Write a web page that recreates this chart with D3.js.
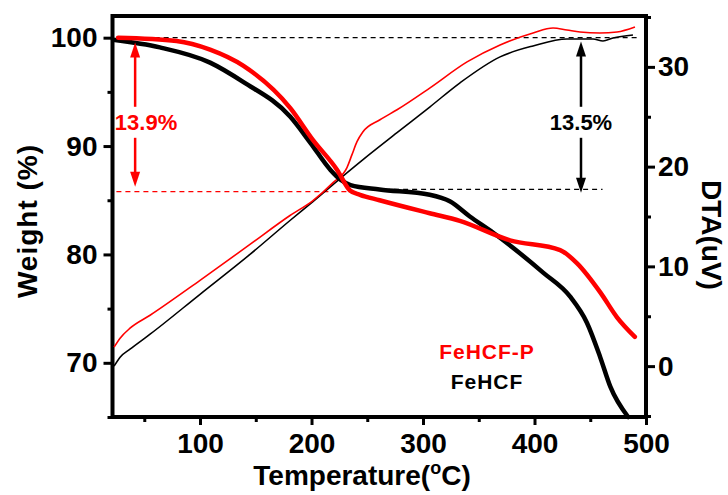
<!DOCTYPE html>
<html>
<head>
<meta charset="utf-8">
<script src="https://cdn.jsdelivr.net/npm/d3@7"></script>
<style>
  body { margin: 0; background: #fff; }
  svg { display: block; font-family: "Liberation Sans", Arial, sans-serif; font-weight: bold; }
</style>
</head>
<body>
<script>
// TG curves (left axis, weight %)
const tgBlackT = [22, 64, 109, 139, 181, 199, 217, 226, 235, 261, 306, 324, 342, 363, 408, 432, 447, 459, 468, 484];
const tgBlackW = [99.8, 99.1, 97.7, 95.9, 92.7, 90.3, 87.8, 86.9, 86.4, 86.0, 85.5, 84.9, 83.5, 82.0, 78.3, 76.1, 73.7, 70.5, 67.8, 65.0];
const tgRedT = [26.5, 79, 109, 139, 181, 201, 223, 234.5, 243.5, 261, 306, 333, 378, 423, 438, 459, 474, 490];
const tgRedW = [100, 99.7, 98.9, 97.4, 93.5, 90.6, 87.8, 85.9, 85.5, 85.0, 83.8, 83.1, 81.3, 80.4, 79.2, 76.5, 74.2, 72.4];

// DTA curves (right axis, uV)
const dtaBlackT = [22.9, 28.3, 37.2, 55.2, 100, 144.8, 180.7, 201.3, 225.6, 246.2, 276.7, 306.3, 333.2, 369.1, 398.7, 429.1, 452.5, 461.4, 470.4, 488.3];
const dtaBlackD = [0.0, 0.9, 1.7, 3.2, 7.2, 11.2, 14.6, 16.5, 18.8, 20.7, 23.4, 26.0, 28.4, 31.0, 32.1, 32.8, 32.8, 32.6, 32.9, 33.2];
const dtaRedT = [22.9, 28.3, 37.2, 55.2, 100, 144.8, 180.7, 201.3, 219.3, 231.8, 236.3, 240.8, 246.2, 261.4, 276.7, 306.3, 339.5, 369.1, 398.7, 416.6, 429.1, 440.8, 458.7, 474.0, 490.1];
const dtaRedD = [1.9, 2.8, 3.8, 5.1, 8.6, 12.2, 15.1, 16.6, 18.4, 19.9, 21.2, 22.5, 23.5, 24.7, 25.7, 27.9, 30.5, 32.2, 33.4, 33.9, 33.7, 33.5, 33.4, 33.5, 34.0];

// ticks
const xTicks = [100, 200, 300, 400, 500];
const xMinor = [50, 150, 250, 350, 450];
const wTicks = [70, 80, 90, 100];
const wMinor = [65, 75, 85, 95];
const dTicks = [0, 10, 20, 30];
const dMinor = [-5, 5, 15, 25, 35];

// annotations: reference dashed lines [T start, T end, weight]
const refLineStart = [27, 25, 266];
const refLineEnd = [492, 232, 461];
const refLineW = [100, 85.8, 86.0];
// double arrows
const arrowT = [41.8, 441.7];
const arrowTopW = [99.55, 99.65];
const arrowBottomW = [86.25, 85.7];
const arrowLabels = ["13.9%", "13.5%"];
const arrowLabelT = [51.6, 441.7];
const arrowLabelW = [91.5, 91.5];

const legendNames = ["FeHCF-P", "FeHCF"];

const W = 728, H = 495;
const margin = {top: 16, right: 82, bottom: 78, left: 112.5};
const RED = "#ff0000";

const svg = d3.select("body").append("svg").attr("width", W).attr("height", H);

const x = d3.scaleLinear().domain([21.5, 500]).range([margin.left, W - margin.right]);
const yW = d3.scaleLinear().domain([65, 102]).range([H - margin.bottom, margin.top]);
const yD = d3.scaleLinear().domain([-5.1, 35.1]).range([H - margin.bottom, margin.top]);

// axes
function styleAxis(g) {
    g.select(".domain").remove();
    g.selectAll(".tick line").attr("stroke", "#000").attr("stroke-width", 3);
    g.selectAll(".tick text").attr("fill", "#000").attr("font-size", 28)
        .attr("font-family", "Liberation Sans, Arial, sans-serif").attr("font-weight", "bold");
}
const bottomY = H - margin.bottom, rightX = W - margin.right;

svg.append("g").attr("transform", `translate(0,${bottomY})`)
    .call(d3.axisBottom(x).tickValues(xTicks).tickSize(8).tickPadding(8))
    .call(styleAxis);
svg.append("g").attr("transform", `translate(0,${bottomY})`)
    .call(d3.axisBottom(x).tickValues(xMinor).tickSize(5).tickFormat(""))
    .call(styleAxis);
svg.append("g").attr("transform", `translate(${margin.left},0)`)
    .call(d3.axisLeft(yW).tickValues(wTicks).tickSize(9).tickPadding(6))
    .call(styleAxis);
svg.append("g").attr("transform", `translate(${margin.left},0)`)
    .call(d3.axisLeft(yW).tickValues(wMinor).tickSize(5).tickFormat(""))
    .call(styleAxis);
svg.append("g").attr("transform", `translate(${rightX},0)`)
    .call(d3.axisRight(yD).tickValues(dTicks).tickSize(9).tickPadding(3))
    .call(styleAxis);
svg.append("g").attr("transform", `translate(${rightX},0)`)
    .call(d3.axisRight(yD).tickValues(dMinor).tickSize(5).tickFormat(""))
    .call(styleAxis);

// frame
svg.append("rect")
    .attr("x", margin.left).attr("y", margin.top)
    .attr("width", rightX - margin.left).attr("height", bottomY - margin.top)
    .attr("fill", "none").attr("stroke", "#000").attr("stroke-width", 4);

// dashed reference lines
const refColors = ["#000", RED, "#000"];
refLineW.forEach((w, i) => {
    svg.append("line")
        .attr("x1", x(refLineStart[i])).attr("x2", x(refLineEnd[i]))
        .attr("y1", yW(w)).attr("y2", yW(w))
        .attr("stroke", refColors[i]).attr("stroke-width", 1.2)
        .attr("stroke-dasharray", "5,4");
});

// curves
function pathOf(T, V, yScale) {
    return d3.line().x((d) => x(d[0])).y((d) => yScale(d[1])).curve(d3.curveMonotoneX)(T.map((t, i) => [t, V[i]]));
}
svg.append("path").attr("d", pathOf(dtaBlackT, dtaBlackD, yD))
    .attr("fill", "none").attr("stroke", "#000").attr("stroke-width", 1.6);
svg.append("path").attr("d", pathOf(dtaRedT, dtaRedD, yD))
    .attr("fill", "none").attr("stroke", RED).attr("stroke-width", 1.6);
svg.append("path").attr("d", pathOf(tgBlackT, tgBlackW, yW))
    .attr("fill", "none").attr("stroke", "#000").attr("stroke-width", 4.5).attr("stroke-linecap", "round");
svg.append("path").attr("d", pathOf(tgRedT, tgRedW, yW))
    .attr("fill", "none").attr("stroke", RED).attr("stroke-width", 4.5).attr("stroke-linecap", "round");

// arrows with labels
const arrowColors = [RED, "#000"];
function arrowHead(px, tipY, dir, color) {
    // dir = -1 pointing up, 1 pointing down
    const len = 15, half = 5;
    svg.append("path")
        .attr("d", `M${px},${tipY} L${px - half},${tipY - dir * len} L${px + half},${tipY - dir * len} Z`)
        .attr("fill", color);
}
arrowT.forEach((t, i) => {
    const px = x(t);
    const top = yW(arrowTopW[i]), bot = yW(arrowBottomW[i]);
    const ly = yW(arrowLabelW[i]);
    const c = arrowColors[i];
    svg.append("line").attr("x1", px).attr("x2", px).attr("y1", top + 10).attr("y2", ly - 23)
        .attr("stroke", c).attr("stroke-width", 2.5);
    svg.append("line").attr("x1", px).attr("x2", px).attr("y1", ly + 8).attr("y2", bot - 10)
        .attr("stroke", c).attr("stroke-width", 2.5);
    arrowHead(px, top, -1, c);
    arrowHead(px, bot, 1, c);
    svg.append("text").attr("x", x(arrowLabelT[i])).attr("y", ly)
        .attr("text-anchor", "middle").attr("font-size", 22).attr("fill", c)
        .text(arrowLabels[i]);
});

// legend
const legendColors = [RED, "#000"];
legendNames.forEach((name, i) => {
    svg.append("text").attr("x", 487).attr("y", 359 + i * 30)
        .attr("text-anchor", "middle").attr("font-size", 21).attr("letter-spacing", 1)
        .attr("fill", legendColors[i]).text(name);
});

// axis titles
const xt = svg.append("text").attr("x", 362).attr("y", 485)
    .attr("text-anchor", "middle").attr("font-size", 28);
xt.append("tspan").text("Temperature(");
xt.append("tspan").attr("font-size", 18).attr("dy", -11).text("o");
xt.append("tspan").attr("dy", 11).text("C)");

svg.append("text").attr("transform", "translate(37,221) rotate(-90)")
    .attr("text-anchor", "middle").attr("font-size", 28).attr("letter-spacing", 1)
    .text("Weight (%)");

svg.append("text").attr("transform", "translate(702,235) rotate(90)")
    .attr("text-anchor", "middle").attr("font-size", 28)
    .text("DTA(uV)");
</script>
</body>
</html>
